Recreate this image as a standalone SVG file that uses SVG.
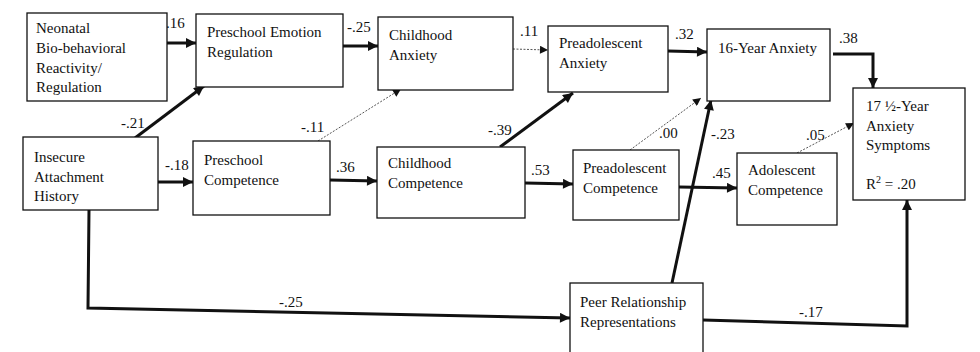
<svg xmlns="http://www.w3.org/2000/svg" width="980" height="352" viewBox="0 0 980 352" font-family="Liberation Serif, DejaVu Serif, serif">
<style>
.box{fill:#fff;stroke:#111;stroke-width:1.3}
text{font-family:'Liberation Serif','DejaVu Serif',serif;font-size:15px;fill:#111}
.thick{fill:none;stroke:#111;stroke-width:3}
.dot{fill:none;stroke:#555;stroke-width:1;stroke-dasharray:2 1.5}
</style>
<defs>
<marker id="ah" viewBox="0 0 10 10" refX="10" refY="5" markerWidth="11" markerHeight="10" markerUnits="userSpaceOnUse" orient="auto">
<path d="M0,0 L10,5 L0,10 z" fill="#111"/>
</marker>
<marker id="ahs" viewBox="0 0 10 10" refX="10" refY="5" markerWidth="9" markerHeight="8" markerUnits="userSpaceOnUse" orient="auto">
<path d="M0,0 L10,5 L0,10 z" fill="#111"/>
</marker>
</defs>
<rect width="980" height="352" fill="#fff"/>
<g id="connectors">
<line class="thick" x1="167" y1="43" x2="196" y2="43" marker-end="url(#ah)"/>
<line class="thick" x1="343" y1="46" x2="378" y2="46" marker-end="url(#ah)"/>
<line class="dot" x1="513" y1="49" x2="548" y2="50" marker-end="url(#ahs)"/>
<line class="thick" x1="668" y1="51" x2="707" y2="52" marker-end="url(#ah)"/>
<polyline class="thick" points="833,54 873,54 873,88" marker-end="url(#ah)"/>
<line class="thick" x1="135" y1="138" x2="204" y2="86" marker-end="url(#ah)"/>
<line class="thick" x1="158" y1="182" x2="193" y2="182" marker-end="url(#ah)"/>
<line class="dot" x1="318" y1="141" x2="401" y2="89" marker-end="url(#ahs)"/>
<line class="thick" x1="330" y1="180" x2="377" y2="181" marker-end="url(#ah)"/>
<line class="thick" x1="500" y1="147" x2="573" y2="93" marker-end="url(#ah)"/>
<line class="thick" x1="525" y1="183" x2="573" y2="184" marker-end="url(#ah)"/>
<line class="dot" x1="630" y1="150" x2="701" y2="98" marker-end="url(#ahs)"/>
<line class="thick" x1="672" y1="283" x2="711" y2="100" marker-end="url(#ah)"/>
<line class="thick" x1="679" y1="187" x2="737" y2="188" marker-end="url(#ah)"/>
<line class="dot" x1="797" y1="153" x2="854" y2="123" marker-end="url(#ahs)"/>
<polyline class="thick" points="89,210 88,308 570,318" marker-end="url(#ah)"/>
<polyline class="thick" points="703,320 907,326 907,200" marker-end="url(#ah)"/>
<text x="166" y="28">.16</text>
<text x="347" y="32">-.25</text>
<text x="520" y="36">.11</text>
<text x="675" y="39">.32</text>
<text x="839" y="43">.38</text>
<text x="121" y="128">-.21</text>
<text x="165" y="170">-.18</text>
<text x="301" y="132">-.11</text>
<text x="336" y="172">.36</text>
<text x="488" y="135">-.39</text>
<text x="531" y="175">.53</text>
<text x="659" y="138">.00</text>
<text x="711" y="139">-.23</text>
<text x="712" y="178">.45</text>
<text x="806" y="140">.05</text>
<text x="279" y="307">-.25</text>
<text x="799" y="317">-.17</text>
</g>
<g id="n-neonatal">
<rect class="box" x="27" y="13" width="140" height="88"/>
<text x="36" y="33">Neonatal</text>
<text x="36" y="53">Bio-behavioral</text>
<text x="36" y="73">Reactivity/</text>
<text x="36" y="92">Regulation</text>
</g>
<g id="n-preschool-emotion">
<rect class="box" x="196" y="14" width="147" height="73"/>
<text x="207" y="37">Preschool Emotion</text>
<text x="207" y="57">Regulation</text>
</g>
<g id="n-childhood-anxiety">
<rect class="box" x="378" y="17" width="135" height="73"/>
<text x="389" y="40">Childhood</text>
<text x="389" y="60">Anxiety</text>
</g>
<g id="n-preadolescent-anxiety">
<rect class="box" x="548" y="26" width="120" height="66"/>
<text x="559" y="48">Preadolescent</text>
<text x="559" y="68">Anxiety</text>
</g>
<g id="n-16-year">
<rect class="box" x="707" y="29" width="123" height="72"/>
<text x="718" y="53">16-Year Anxiety</text>
</g>
<g id="n-17-year">
<rect class="box" x="853" y="88" width="112" height="112"/>
<text x="866" y="111">17 ½-Year</text>
<text x="866" y="131">Anxiety</text>
<text x="866" y="150">Symptoms</text>
<text x="866" y="189">R<tspan font-size="10" dy="-6">2</tspan><tspan dy="6"> = .20</tspan></text>
</g>
<g id="n-insecure">
<rect class="box" x="23" y="137" width="135" height="73"/>
<text x="34" y="162">Insecure</text>
<text x="34" y="182">Attachment</text>
<text x="34" y="201">History</text>
</g>
<g id="n-preschool-competence">
<rect class="box" x="193" y="141" width="137" height="74"/>
<text x="204" y="165">Preschool</text>
<text x="204" y="185">Competence</text>
</g>
<g id="n-childhood-competence">
<rect class="box" x="377" y="147" width="148" height="71"/>
<text x="388" y="168">Childhood</text>
<text x="388" y="188">Competence</text>
</g>
<g id="n-preadolescent-competence">
<rect class="box" x="573" y="150" width="106" height="70"/>
<text x="583" y="173">Preadolescent</text>
<text x="583" y="193">Competence</text>
</g>
<g id="n-adolescent-competence">
<rect class="box" x="737" y="153" width="100" height="72"/>
<text x="748" y="175">Adolescent</text>
<text x="748" y="195">Competence</text>
</g>
<g id="n-peer">
<rect class="box" x="570" y="283" width="133" height="80"/>
<text x="580" y="307">Peer Relationship</text>
<text x="580" y="327">Representations</text>
</g>
</svg>
